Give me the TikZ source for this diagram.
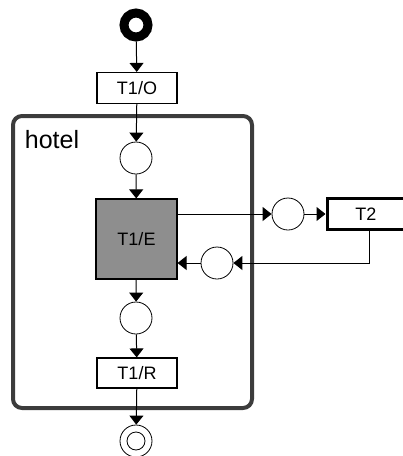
\documentclass[tikz,border=0pt]{standalone}
\usepackage{fontspec}
\setsansfont{Liberation Sans}
\usetikzlibrary{arrows.meta}
\definecolor{hotelgray}{HTML}{3C3C3C}
\definecolor{busygray}{HTML}{8E8E8E}
\begin{document}
\begin{tikzpicture}[x=1pt,y=-1pt,font=\sffamily,
  place/.style={draw,circle,minimum size=32pt,inner sep=0pt,line width=0.8pt},
  trans/.style={draw,line width=1.2pt,minimum width=80pt,minimum height=31pt,inner sep=0pt,font=\sffamily\fontsize{18}{20}\selectfont},
  arc/.style={-{Triangle[width=14pt,length=9pt]},line width=1pt}]
  \useasboundingbox (0,0) rectangle (403,456);
  \draw[line width=4pt,hotelgray,rounded corners=9pt] (13,116) rectangle (252,408);
  \node[font=\sffamily\fontsize{25}{28}\selectfont] (lbl) at (52,140) {hotel};
  % main spine
  \node[circle,draw,line width=9pt,minimum size=24pt,inner sep=0pt] (start) at (136,25) {};
  \node[trans] (o) at (137,88) {T1/O};
  \node[place] (p1) at (136,158) {};
  \node[trans,fill=busygray,minimum width=81pt,minimum height=80pt] (e) at (136.5,239) {T1/E};
  \node[place] (p3) at (136,318) {};
  \node[trans,minimum height=30pt] (r) at (137,373) {T1/R};
  \node[place] (end) at (136,441) {};
  \draw[line width=0.8pt] (end) circle (9);
  \draw[arc] (start) -- (o);
  \draw[arc] (o) -- (p1);
  \draw[arc] (p1) -- (e);
  \draw[arc] (e) -- (p3);
  \draw[arc] (p3) -- (r);
  \draw[arc] (r) -- (end);
  % call of T2
  \node[place] (pr) at (288,214) {};
  \node[trans,line width=3pt,minimum width=78pt,minimum height=31pt] (t2) at (366,214) {T2};
  \node[place] (p2) at (217,263) {};
  \draw[arc] (e.east |- pr) -- (pr);
  \draw[arc] (pr) -- (t2);
  \draw[arc] ([xshift=3pt]t2.south) |- (p2);
  \draw[arc] (p2) -- (p2 -| e.east);
\end{tikzpicture}
\end{document}
